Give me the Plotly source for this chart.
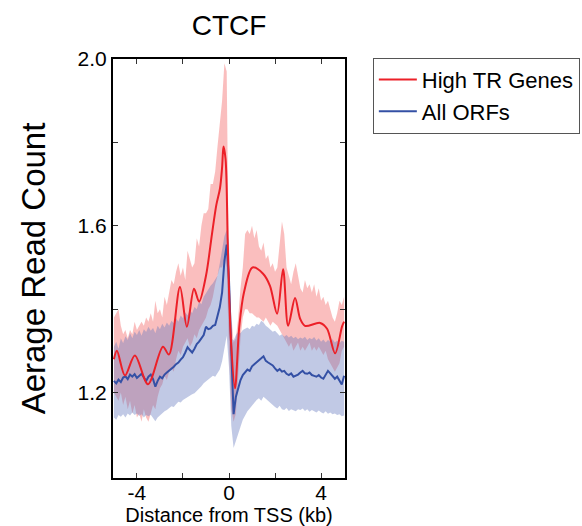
import numpy as np
import plotly.graph_objects as go

# Position grid (kb from TSS) for the sampled profiles and confidence bands
dist_kb = [round(-5.0 + 0.1 * i, 1) for i in range(101)]

# All ORFs: mean profile
all_orfs_mean = [
    1.228, 1.222, 1.231, 1.225, 1.236, 1.239, 1.232, 1.243, 1.238, 1.244,
    1.235, 1.240, 1.245, 1.236, 1.228, 1.238, 1.243, 1.232, 1.214, 1.228,
    1.238, 1.234, 1.243, 1.248, 1.252, 1.258, 1.262, 1.268, 1.272, 1.279,
    1.285, 1.296, 1.309, 1.302, 1.296, 1.305, 1.316, 1.322, 1.330, 1.338,
    1.358, 1.352, 1.354, 1.360, 1.362, 1.382, 1.405, 1.440, 1.515, 1.555,
    1.470, 1.300, 1.148, 1.190, 1.212, 1.230, 1.242, 1.248, 1.255, 1.252,
    1.263, 1.268, 1.272, 1.276, 1.282, 1.287, 1.276, 1.272, 1.268, 1.265,
    1.258, 1.252, 1.256, 1.250, 1.252, 1.245, 1.242, 1.246, 1.238, 1.240,
    1.243, 1.248, 1.252, 1.246, 1.245, 1.248, 1.242, 1.240, 1.238, 1.242,
    1.236, 1.233, 1.244, 1.252, 1.246, 1.240, 1.233, 1.238, 1.230, 1.219,
    1.240,
]

# All ORFs: band limits
all_orfs_upper = [
    1.310, 1.322, 1.305, 1.330, 1.318, 1.335, 1.326, 1.342, 1.330, 1.346,
    1.338, 1.350, 1.336, 1.352, 1.345, 1.358, 1.348, 1.355, 1.342, 1.360,
    1.352, 1.365, 1.356, 1.368, 1.360, 1.372, 1.366, 1.378, 1.370, 1.385,
    1.378, 1.392, 1.385, 1.398, 1.390, 1.405, 1.400, 1.418, 1.412, 1.430,
    1.438, 1.448, 1.456, 1.462, 1.470, 1.480, 1.510, 1.545, 1.575, 1.590,
    1.560, 1.330, 1.325, 1.338, 1.346, 1.342, 1.350, 1.353, 1.356, 1.352,
    1.360, 1.358, 1.365, 1.362, 1.372, 1.368, 1.360, 1.356, 1.352, 1.346,
    1.348, 1.342, 1.336, 1.340, 1.334, 1.338, 1.332, 1.336, 1.330, 1.334,
    1.328, 1.332, 1.329, 1.334, 1.326, 1.331, 1.328, 1.333, 1.325, 1.330,
    1.322, 1.327, 1.320, 1.326, 1.322, 1.328, 1.320, 1.325, 1.318, 1.324,
    1.322,
]
all_orfs_lower = [
    1.140, 1.135, 1.146, 1.142, 1.148, 1.140, 1.150, 1.145, 1.152, 1.146,
    1.150, 1.144, 1.148, 1.140, 1.146, 1.143, 1.147, 1.138, 1.131, 1.140,
    1.145, 1.150, 1.155, 1.158, 1.162, 1.167, 1.165, 1.172, 1.178, 1.176,
    1.182, 1.186, 1.190, 1.193, 1.196, 1.198, 1.205, 1.210, 1.215, 1.222,
    1.228, 1.232, 1.236, 1.240, 1.238, 1.245, 1.255, 1.275, 1.300, 1.336,
    1.260, 1.120, 1.067, 1.085, 1.100, 1.118, 1.135, 1.146, 1.155, 1.162,
    1.170, 1.176, 1.182, 1.186, 1.180, 1.190, 1.186, 1.182, 1.175, 1.170,
    1.165, 1.162, 1.168, 1.160, 1.158, 1.163, 1.156, 1.160, 1.158, 1.155,
    1.160, 1.158, 1.162, 1.156, 1.160, 1.154, 1.158, 1.155, 1.152, 1.157,
    1.153, 1.150, 1.155, 1.149, 1.152, 1.148, 1.150, 1.146, 1.148, 1.143,
    1.145,
]

# High TR genes: band limits
high_tr_upper = [
    1.380, 1.390, 1.400, 1.360, 1.340, 1.350, 1.330, 1.350, 1.340, 1.370,
    1.350, 1.360, 1.370, 1.360, 1.380, 1.370, 1.390, 1.370, 1.420, 1.390,
    1.400, 1.380, 1.430, 1.410, 1.440, 1.470, 1.460, 1.490, 1.510, 1.480,
    1.500, 1.470, 1.540, 1.520, 1.500, 1.510, 1.570, 1.550, 1.600, 1.630,
    1.630, 1.640, 1.700, 1.700, 1.730, 1.790, 1.840, 1.900, 1.990, 1.970,
    1.450, 1.380, 1.320, 1.330, 1.380, 1.450, 1.500, 1.580, 1.590, 1.580,
    1.600, 1.570, 1.590, 1.550, 1.540, 1.560, 1.520, 1.530, 1.500, 1.510,
    1.490, 1.500, 1.560, 1.610, 1.580, 1.500, 1.480, 1.460, 1.490, 1.510,
    1.480, 1.450, 1.440, 1.470, 1.450, 1.460, 1.440, 1.460, 1.430, 1.450,
    1.420, 1.430, 1.410, 1.420, 1.400, 1.380, 1.370, 1.390, 1.420, 1.410,
    1.430,
]
high_tr_lower = [
    1.200, 1.190, 1.180, 1.200, 1.170, 1.190, 1.160, 1.180, 1.150, 1.170,
    1.140, 1.150, 1.130, 1.160, 1.140, 1.130, 1.150, 1.170, 1.160, 1.190,
    1.210, 1.220, 1.240, 1.230, 1.250, 1.260, 1.250, 1.280, 1.300, 1.290,
    1.310, 1.320, 1.330, 1.310, 1.320, 1.340, 1.330, 1.350, 1.360, 1.370,
    1.380, 1.400, 1.410, 1.430, 1.460, 1.480, 1.500, 1.500, 1.520, 1.500,
    1.300, 1.160, 1.130, 1.150, 1.240, 1.330, 1.380, 1.400, 1.400, 1.390,
    1.390, 1.385, 1.380, 1.380, 1.375, 1.370, 1.380, 1.370, 1.360, 1.370,
    1.365, 1.360, 1.350, 1.340, 1.330, 1.320, 1.310, 1.320, 1.300, 1.310,
    1.320, 1.300, 1.310, 1.300, 1.310, 1.320, 1.300, 1.310, 1.300, 1.310,
    1.300, 1.290, 1.300, 1.280, 1.270, 1.260, 1.250, 1.260, 1.270, 1.300,
    1.310,
]

# High TR genes: smoothed mean profile (knots)
high_tr_x = [
    -5.0, -4.87, -4.52, -4.09, -3.52, -2.87, -2.61, -2.13, -1.83, -1.52,
    -1.30, -1.0, -0.74, -0.55, -0.39, -0.30, -0.24, -0.15, -0.05, 0.08,
    0.26, 0.45, 0.65, 1.02, 1.48, 1.78, 2.09, 2.35, 2.57, 2.87,
    3.09, 3.30, 3.96, 4.26, 4.61, 4.91, 5.0,
]
high_tr_mean = [
    1.280, 1.300, 1.241, 1.289, 1.220, 1.310, 1.291, 1.453, 1.358, 1.449,
    1.418, 1.480, 1.580, 1.650, 1.690, 1.740, 1.790, 1.760, 1.550, 1.330,
    1.210, 1.360, 1.440, 1.500, 1.485, 1.456, 1.389, 1.496, 1.360, 1.427,
    1.377, 1.360, 1.367, 1.353, 1.294, 1.358, 1.370,
]

RED = "rgb(236,32,40)"
BLUE = "rgb(52,80,165)"
RED_FILL = "rgba(245,110,110,0.45)"
BLUE_FILL = "rgba(100,120,190,0.40)"


def band(x, lo, hi, fill):
    xs = list(x) + list(x)[::-1]
    ys = list(hi) + list(lo)[::-1]
    return go.Scatter(x=xs, y=ys, fill="toself", fillcolor=fill,
                      line=dict(width=0), mode="lines",
                      hoverinfo="skip", showlegend=False)


fig = go.Figure()
fig.add_trace(band(dist_kb, high_tr_lower, high_tr_upper, RED_FILL))
fig.add_trace(band(dist_kb, all_orfs_lower, all_orfs_upper, BLUE_FILL))
fig.add_trace(go.Scatter(x=dist_kb, y=all_orfs_mean, mode="lines",
                         line=dict(color=BLUE, width=2), name="All ORFs"))
fig.add_trace(go.Scatter(x=high_tr_x, y=high_tr_mean, mode="lines",
                         line=dict(color=RED, width=2, shape="spline",
                                   smoothing=0.9),
                         name="High TR Genes"))

font = "Liberation Sans, Arial, sans-serif"

fig.update_layout(
    width=582, height=526,
    margin=dict(l=113, r=237, t=59, b=48, autoexpand=False),
    paper_bgcolor="white", plot_bgcolor="white",
    font=dict(family=font, color="black"),
    title=dict(text="CTCF", x=(113 + 345) / 2 / 582, xanchor="center",
               y=1 - 25 / 526, yanchor="middle",
               font=dict(size=28, family=font, color="black")),
    showlegend=True,
    legend=dict(x=1.12, y=1.003, xanchor="left", yanchor="top",
                bordercolor="#555555", borderwidth=1, bgcolor="white",
                font=dict(size=22, family=font, color="black"),
                itemwidth=38,
                traceorder="reversed", tracegroupgap=0),
)

fig.update_xaxes(
    range=[-5.04, 5.04], showgrid=False, zeroline=False,
    showline=True, linecolor="black", linewidth=2, mirror="ticks",
    ticks="inside", ticklen=5, tickwidth=1, tickcolor="#333333",
    tickvals=[-4, -2, 0, 2, 4], ticktext=["-4", "", "0", "", "4"],
    tickfont=dict(size=21, family=font, color="black"),
    ticklabelstandoff=-5,
    title=dict(text="Distance from TSS (kb)", standoff=3,
               font=dict(size=20, family=font, color="black")),
)
fig.update_yaxes(
    range=[0.995, 2.0], showgrid=False, zeroline=False,
    showline=True, linecolor="black", linewidth=2, mirror="ticks",
    ticks="inside", ticklen=5, tickwidth=1, tickcolor="#333333",
    tickvals=[1.2, 1.4, 1.6, 1.8, 2.0], ticktext=["1.2", "", "1.6", "", "2.0"],
    tickfont=dict(size=21, family=font, color="black"),
    title=dict(text="Aerage Read Count", standoff=22,
               font=dict(size=33, family=font, color="black")),
)

fig.write_html("out.html")
